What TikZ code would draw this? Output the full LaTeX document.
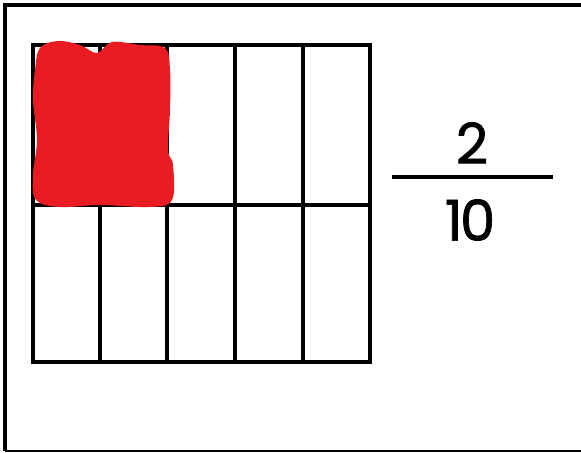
\documentclass[tikz,border=0pt]{standalone}
\usepackage{fontspec}
\setmainfont{Poppins}
\usepackage{xcolor}
\usetikzlibrary{positioning, calc}
\definecolor{shadered}{HTML}{E91C24}

\begin{document}
\begin{tikzpicture}[
    x=0.025cm, y=-0.025cm,
    gridline/.style={line width=2.3pt, line cap=rect},
    frameline/.style={line width=3pt},
    digit/.style={font=\fontsize{40}{40}\selectfont\addfontfeature{FakeBold=1.2}, inner sep=0pt}
]
\useasboundingbox (0,0) rectangle (581,453);
% outer frame (open on the right)
\draw[frameline] (581,5) -- (5,5) -- (5,451);
\draw[line width=1.6pt] (5,451) -- (581,451);
% ten cells, two rows of five
\draw[gridline] (33,45) rectangle (370,362);
\draw[gridline] (33,205) -- (370,205);
\foreach \cx in {100,167,235,303}
    \draw[gridline] (\cx,45) -- (\cx,362);
% the two coloured parts
\fill[shadered] plot[smooth cycle, tension=0.6] coordinates {
    (40,48) (58,41) (80,45) (97,53) (112,42) (140,45) (165,48) (170,70)
    (170,110) (168,150) (173,165) (172,200) (150,207) (100,205) (60,207)
    (36,200) (33,175) (37,140) (33,100) (35,70)};
% fraction
\node[digit] (num) at (472,143) {2};
\node[digit] (den) at (470,220) {1\kern-2pt0};
\coordinate (barl) at (392,177);
\coordinate (barr) at (553,177);
\draw[line width=2.9pt] (barl) -- (barr);
\end{tikzpicture}
\end{document}
